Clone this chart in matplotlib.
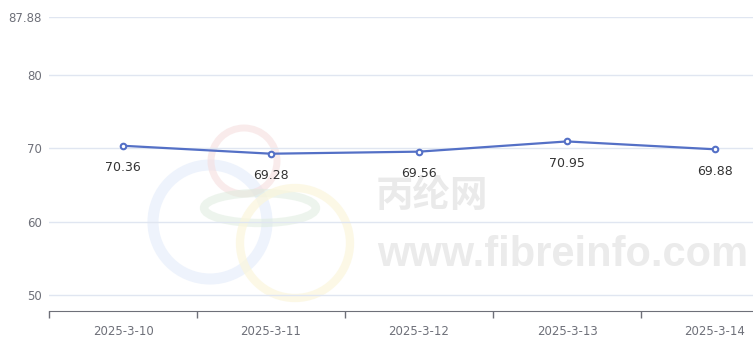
"""
price line chart, 2025-3-10 .. 2025-3-14
"""

import matplotlib
matplotlib.use('Agg')
import matplotlib.pyplot as plt
from matplotlib.patches import Circle, Ellipse

plt.rcParams['font.family'] = ['Noto Sans CJK SC', 'DejaVu Sans']

# data
dates = ['2025-3-10', '2025-3-11', '2025-3-12', '2025-3-13', '2025-3-14']
values = [70.36, 69.28, 69.56, 70.95, 69.88]
y_ticks = [50, 60, 70, 80, 87.88]
y_tick_labels = ['50', '60', '70', '80', '87.88']
y_min, y_max = 47.88, 87.88

line_color = '#5470c6'
grid_color = '#e0e6f1'
axis_color = '#6e7079'

W, H = 753, 348
fig = plt.figure(figsize=(W/100, H/100), dpi=100)

# watermark layer (pixel coords)
bg = fig.add_axes([0, 0, 1, 1], zorder=0)
bg.set_xlim(0, W)
bg.set_ylim(H, 0)
bg.axis('off')
bg.add_patch(Circle((210, 222), 57, fill=False, lw=8, ec='#e3ecfb', alpha=0.6))
bg.add_patch(Circle((244, 161), 33, fill=False, lw=5, ec='#f6dede', alpha=0.6))
bg.add_patch(Ellipse((260, 208), 112, 30, fill=False, lw=6, ec='#dcebdc', alpha=0.5))
bg.add_patch(Circle((295, 243), 55, fill=False, lw=6, ec='#fbf6dc', alpha=0.7))
bg.text(432, 195, '丙纶网', fontsize=27, fontweight='bold', color='#eaeaea',
        ha='center', va='center')
bg.text(563, 255, 'www.fibreinfo.com', fontsize=30, fontweight='bold', color='#ebebeb',
        ha='center', va='center', family='Liberation Sans')

# main axes; plot area continues past the right edge of the image
left, right = 49, 49 + 148*5
top, bottom = 17, 311
ax = fig.add_axes([left/W, 1 - bottom/H, (right-left)/W, (bottom-top)/H], zorder=1)
ax.patch.set_alpha(0)

x = range(len(dates))
ax.plot(x, values, color=line_color, lw=1.6, marker='o', ms=4,
        mfc='white', mec=line_color, mew=1.5, zorder=3)
for i, v in enumerate(values):
    ax.annotate('%.2f' % v, (i, v), xytext=(0, -11), textcoords='offset points',
                ha='center', va='top', fontsize=9, color='#333333', family='DejaVu Sans')

ax.set_xlim(-0.5, len(dates) - 0.5)
ax.set_ylim(y_min, y_max)
ax.set_yticks(y_ticks)
ax.set_yticklabels(y_tick_labels)
ax.set_xticks(list(x))
ax.set_xticklabels(dates)
ax.set_xticks([i - 0.5 for i in range(len(dates) + 1)], minor=True)
ax.tick_params(axis='x', which='major', length=0, pad=10, labelsize=8.5, labelcolor=axis_color)
ax.tick_params(axis='x', which='minor', length=5, color=axis_color, width=1)
ax.tick_params(axis='y', length=0, pad=5, labelsize=8.5, labelcolor=axis_color)
for lab in ax.get_xticklabels() + ax.get_yticklabels():
    lab.set_family('DejaVu Sans')

ax.grid(axis='y', color=grid_color, lw=1)
ax.set_axisbelow(True)
for s in ['top', 'right', 'left']:
    ax.spines[s].set_visible(False)
ax.spines['bottom'].set_color(axis_color)

fig.savefig('out.png', dpi=100)
